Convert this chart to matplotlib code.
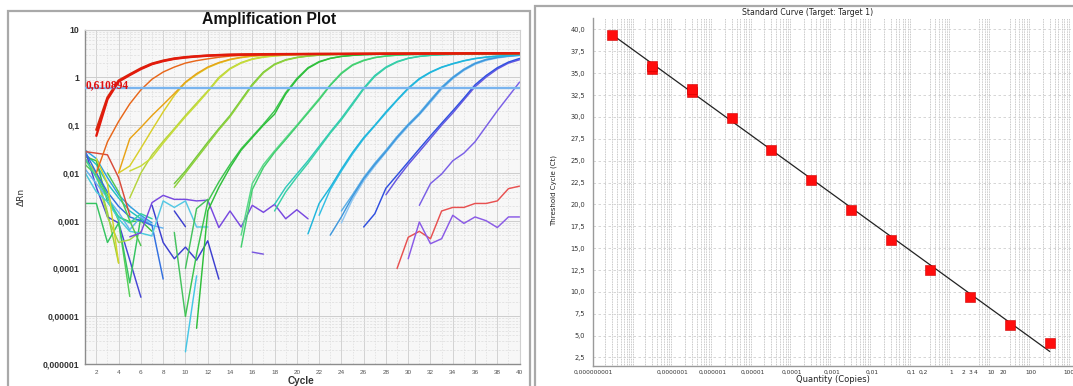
import numpy as np
import matplotlib
matplotlib.use("Agg")
import matplotlib.pyplot as plt
from matplotlib.patches import Rectangle
from matplotlib.ticker import LogLocator, NullFormatter, FixedLocator

# ---------------- amplification plot ----------------
threshold = 0.610894
amp_y_ticks = [10, 1, 0.1, 0.01, 0.001, 0.0001, 0.00001, 0.000001]
amp_y_labels = ["10", "1", "0,1", "0,01", "0,001", "0,0001", "0,00001", "0,000001"]
cycle_ticks = list(range(2, 41, 2))

# each trace: (first cycle, delta Rn for each following cycle)
red_a = (2, [0.06, 0.35, 0.82, 1.12, 1.5, 1.9, 2.2, 2.45, 2.62, 2.75, 2.85, 2.92, 2.97, 3.0, 3.02, 3.04, 3.05,
             3.06, 3.07, 3.08, 3.09, 3.1, 3.1, 3.11, 3.12, 3.12, 3.13, 3.14, 3.14, 3.15, 3.16, 3.16, 3.17, 3.17,
             3.18, 3.18, 3.19, 3.19, 3.2])
red_b = (2, [0.08, 0.38, 0.86, 1.16, 1.55, 1.95, 2.25, 2.5, 2.66, 2.78, 2.88, 2.95, 3.0, 3.03, 3.05, 3.07, 3.08,
             3.09, 3.1, 3.11, 3.12, 3.12, 3.13, 3.14, 3.14, 3.15, 3.16, 3.16, 3.17, 3.18, 3.18, 3.19, 3.19, 3.2,
             3.2, 3.21, 3.21, 3.22, 3.22])
red_frag = (1, [0.028, 0.026, 0.024, 0.008, 0.0013])
orange_a = (2, [0.01, 0.045, 0.12, 0.28, 0.55, 0.92, 1.3, 1.65, 2.0, 2.25, 2.45, 2.65, 2.8, 2.9, 2.97, 3.02, 3.05,
                3.07, 3.09, 3.1, 3.11, 3.12, 3.13, 3.14, 3.15, 3.15, 3.16, 3.17, 3.18, 3.18, 3.19, 3.2, 3.2, 3.21,
                3.21, 3.22, 3.22, 3.23, 3.23])
yellow_a = (4, [0.01, 0.052, 0.09, 0.16, 0.27, 0.46, 0.8, 1.2, 1.65, 2.05, 2.4, 2.65, 2.82, 2.93, 3.0, 3.05, 3.08,
                3.1, 3.12, 3.13, 3.14, 3.15, 3.16, 3.17, 3.18, 3.18, 3.19, 3.2, 3.2, 3.21, 3.21, 3.22, 3.22, 3.23,
                3.23, 3.24, 3.24])
yellow_b = (4, [0.01, 0.014, 0.033, 0.08, 0.19, 0.42, 0.78, 1.15, 1.6, 2.0, 2.35, 2.6, 2.78, 2.9, 2.98, 3.03, 3.07,
                3.09, 3.11, 3.12, 3.13, 3.14, 3.15, 3.16, 3.17, 3.17, 3.18, 3.19, 3.19, 3.2, 3.2, 3.21, 3.21, 3.22,
                3.22, 3.23, 3.23])
lime_a = (5, [0.011, 0.014, 0.021, 0.042, 0.08, 0.15, 0.27, 0.5, 0.95, 1.5, 2.0, 2.4, 2.65, 2.82, 2.93, 3.0, 3.05,
              3.08, 3.1, 3.11, 3.12, 3.13, 3.14, 3.15, 3.16, 3.16, 3.17, 3.18, 3.18, 3.19, 3.19, 3.2, 3.2, 3.21,
              3.21, 3.22])
lime_b = (5, [0.003, 0.01, 0.024, 0.046, 0.085, 0.16, 0.29, 0.52, 1.0, 1.55, 2.05, 2.45, 2.7, 2.85, 2.95, 3.02, 3.06,
              3.08, 3.1, 3.11, 3.12, 3.13, 3.14, 3.15, 3.15, 3.16, 3.17, 3.17, 3.18, 3.18, 3.19, 3.19, 3.2, 3.2,
              3.21, 3.21])
chart_a = (9, [0.005, 0.01, 0.02, 0.04, 0.08, 0.15, 0.32, 0.68, 1.25, 1.85, 2.3, 2.6, 2.8, 2.93, 3.0, 3.05, 3.08,
               3.1, 3.11, 3.12, 3.13, 3.14, 3.14, 3.15, 3.16, 3.16, 3.17, 3.17, 3.18, 3.18, 3.19, 3.19])
chart_b = (9, [0.006, 0.011, 0.022, 0.044, 0.085, 0.16, 0.34, 0.72, 1.3, 1.9, 2.35, 2.63, 2.82, 2.94, 3.01, 3.06,
               3.08, 3.1, 3.11, 3.12, 3.13, 3.13, 3.14, 3.15, 3.15, 3.16, 3.16, 3.17, 3.17, 3.18, 3.18, 3.19])
green_a = (11, [0.0000056, 0.0016, 0.005, 0.013, 0.03, 0.055, 0.1, 0.17, 0.45, 0.9, 1.55, 2.1, 2.5, 2.75, 2.9,
                3.0, 3.05, 3.08, 3.1, 3.11, 3.12, 3.13, 3.13, 3.14, 3.14, 3.15, 3.15, 3.16, 3.16, 3.17])
green_b = (10, [0.00001, 0.0002, 0.0025, 0.0065, 0.015, 0.032, 0.058, 0.105, 0.2, 0.48, 0.95, 1.6, 2.15, 2.52,
                2.77, 2.91, 3.0, 3.05, 3.08, 3.1, 3.11, 3.12, 3.12, 3.13, 3.13, 3.14, 3.14, 3.15, 3.15, 3.16, 3.16])
mint_a = (15, [0.00028, 0.0045, 0.013, 0.027, 0.05, 0.095, 0.18, 0.34, 0.68, 1.2, 1.8, 2.25, 2.6, 2.8, 2.93, 3.0,
               3.05, 3.08, 3.1, 3.11, 3.12, 3.12, 3.13, 3.13, 3.14, 3.14])
mint_b = (15, [0.0005, 0.006, 0.015, 0.029, 0.054, 0.1, 0.19, 0.36, 0.7, 1.25, 1.85, 2.3, 2.62, 2.82, 2.94, 3.01,
               3.05, 3.08, 3.09, 3.1, 3.11, 3.11, 3.12, 3.12, 3.13, 3.13])
teal_a = (18, [0.0016, 0.004, 0.0082, 0.016, 0.033, 0.068, 0.13, 0.27, 0.57, 1.05, 1.6, 2.1, 2.5, 2.75, 2.9, 3.0,
               3.05, 3.08, 3.1, 3.1, 3.11, 3.12, 3.12])
teal_b = (18, [0.0022, 0.005, 0.0095, 0.018, 0.036, 0.072, 0.14, 0.29, 0.6, 1.1, 1.65, 2.15, 2.53, 2.77, 2.91, 3.0,
               3.04, 3.07, 3.08, 3.09, 3.1, 3.1, 3.11])
cyan_a = (21, [0.00053, 0.0023, 0.005, 0.012, 0.027, 0.055, 0.1, 0.19, 0.34, 0.6, 0.95, 1.3, 1.65, 1.95, 2.25,
               2.5, 2.68, 2.8, 2.9, 2.98])
cyan_b = (22, [0.0013, 0.0045, 0.011, 0.025, 0.052, 0.097, 0.18, 0.33, 0.58, 0.92, 1.27, 1.62, 1.92, 2.22, 2.47,
               2.65, 2.78, 2.88, 2.96])
sky_a = (23, [0.0005, 0.0012, 0.0032, 0.0075, 0.015, 0.028, 0.055, 0.1, 0.17, 0.32, 0.6, 0.98, 1.45, 1.95, 2.35,
              2.62, 2.8, 2.92])
sky_b = (24, [0.0009, 0.0028, 0.0068, 0.014, 0.027, 0.052, 0.095, 0.165, 0.3, 0.57, 0.94, 1.4, 1.88, 2.28, 2.56,
              2.75, 2.88])
sky_c = (24, [0.0016, 0.0035, 0.008, 0.016, 0.03, 0.058, 0.105, 0.18, 0.34, 0.63, 1.02, 1.5, 2.0, 2.4, 2.66, 2.83,
              2.95])
blue_a = (26, [0.00074, 0.0014, 0.0048, 0.009, 0.017, 0.032, 0.06, 0.11, 0.2, 0.37, 0.7, 1.1, 1.6, 2.1, 2.5])
blue_b = (28, [0.0035, 0.0075, 0.015, 0.028, 0.053, 0.1, 0.18, 0.34, 0.64, 1.02, 1.5, 2.0, 2.35])
violet_a = (31, [0.0021, 0.006, 0.0095, 0.018, 0.026, 0.045, 0.095, 0.2, 0.4, 0.8])
ntc_red = (29, [0.0001, 0.00045, 0.0006, 0.00042, 0.0016, 0.0019, 0.0019, 0.0023, 0.0023, 0.0026, 0.0047, 0.0053])
ntc_violet = (30, [0.00016, 0.00094, 0.00033, 0.00042, 0.0013, 0.00088, 0.0012, 0.001, 0.00072, 0.0012, 0.0012])

# baseline noise before the curves leave the background
violet_noise = (5, [0.00046, 0.00056, 0.0024, 0.0034, 0.0028, 0.0028, 0.0026, 0.0027, 0.00072, 0.0016, 0.00074,
                    0.0021, 0.0015, 0.0022, 0.0011, 0.0017, 0.0011])
indigo_noise = (7, [0.0021, 0.00035, 0.00016, 0.00028, 0.00015, 0.00038, 0.00006])
indigo_frag = (9, [0.0016, 0.00075])
cyan_noise = (7, [0.0005, 0.0026, 0.0019, 0.0026, 0.00074, 0.00074])
cyan_dip = (10, [0.0000018, 0.00007])
green_dip = (9, [0.00057, 0.00001])
green_rise = (10, [0.0001, 0.0018, 0.0028])
violet_frag = (16, [0.00022, 0.0002])
base_1 = (1, [0.03, 0.02, 0.008, 0.0035, 0.002, 0.0013, 0.0009])
base_2 = (1, [0.025, 0.015, 0.006, 0.003, 0.0016, 0.0011, 0.0008])
base_3 = (1, [0.022, 0.018, 0.0025, 0.0012, 0.00095, 0.001, 0.0006])
base_4 = (1, [0.02, 0.01, 0.0015, 0.00013])
base_5 = (1, [0.03, 0.005, 0.0012, 0.0009, 0.00015, 0.000025])
base_6 = (1, [0.015, 0.009, 0.0035, 0.001, 0.000026])
base_7 = (1, [0.0023, 0.0023, 0.00035, 0.0009, 0.00005, 0.0012])
base_8 = (1, [0.018, 0.01, 0.0012, 0.00035, 0.0004, 0.0006])
base_9 = (1, [0.012, 0.006, 0.003, 0.0015, 0.00065, 0.0012, 0.0008, 0.0007])
base_10 = (1, [0.01, 0.004, 0.0025, 0.0011, 0.0006, 0.00055, 0.00048])
base_11 = (1, [0.028, 0.01, 0.004, 0.002, 0.0012, 0.001, 0.0008, 0.00006])
base_12 = (1, [0.02, 0.008, 0.003, 0.0012, 0.0009, 0.0014, 0.0011])
base_13 = (2, [0.02, 0.006, 0.00013])
base_14 = (3, [0.01, 0.004, 0.001, 0.0003])

# ---------------- standard curve ----------------
quantity = [3e-9, 3e-8, 3e-8, 3e-7, 3e-7, 3e-6, 3e-5, 3e-4, 3e-3, 3e-2, 0.3, 3, 30, 300]
ct_value = [39.4, 35.5, 35.8, 32.9, 33.15, 29.9, 26.2, 22.8, 19.4, 15.9, 12.55, 9.45, 6.25, 4.1]
fit_slope = -3.29
fit_intercept = 11.35
qty_ticks = [1e-9, 1e-7, 1e-6, 1e-5, 1e-4, 1e-3, 1e-2, 0.1, 0.2, 1, 2, 3, 4, 10, 20, 100, 1000]
qty_labels = ["0,000000001", "0,0000001", "0,000001", "0,00001", "0,0001", "0,001", "0,01", "0,1", "0,2",
              "1", "2", "3", "4", "10", "20", "100", "1000"]
ct_ticks = [2.5, 5, 7.5, 10, 12.5, 15, 17.5, 20, 22.5, 25, 27.5, 30, 32.5, 35, 37.5, 40]
ct_labels = ["2,5", "5,0", "7,5", "10,0", "12,5", "15,0", "17,5", "20,0", "22,5", "25,0", "27,5", "30,0",
             "32,5", "35,0", "37,5", "40,0"]

W, H = 1073, 386
fig = plt.figure(figsize=(W / 100, H / 100), dpi=100)
fig.patch.set_facecolor("white")

def fx(px):
    return px / W

def fy(py):
    return 1 - py / H

# panel frames
fig.add_artist(Rectangle((fx(7.5), -0.05), fx(522.5), fy(10.8) + 0.05, transform=fig.transFigure,
                         fill=False, ec="#a9a9a9", lw=1.6))
fig.add_artist(Rectangle((fx(535), -0.05), 0.6, fy(6) + 0.05, transform=fig.transFigure,
                         fill=False, ec="#a9a9a9", lw=1.6))

# ---- amplification axes ----
ax = fig.add_axes([fx(85.2), fy(364), fx(519.6 - 85.2), (364 - 29.7) / H])
ax.set_facecolor("#f7f7f7")
ax.set_yscale("log")
ax.set_xlim(1, 40)
ax.set_ylim(1e-6, 10)
ax.set_yticks(amp_y_ticks)
ax.set_yticklabels(amp_y_labels, fontsize=6.3, fontweight="bold", color="#333333", family="Liberation Sans")
ax.yaxis.set_minor_locator(LogLocator(base=10, subs=np.arange(2, 10)))
ax.yaxis.set_minor_formatter(NullFormatter())
ax.set_xticks(cycle_ticks)
ax.set_xticklabels([str(c) for c in cycle_ticks], fontsize=4.6, color="#555555", family="Liberation Sans")
ax.xaxis.set_minor_locator(FixedLocator(range(3, 40, 2)))
ax.tick_params(which="both", length=0, pad=4)
ax.grid(which="major", axis="y", color="#cdcdcd", lw=0.7)
ax.grid(which="minor", axis="y", color="#dcdcdc", lw=0.5, ls=(0, (3, 2)))
ax.grid(which="major", axis="x", color="#d2d2d2", lw=0.7)
ax.grid(which="minor", axis="x", color="#dddddd", lw=0.5, ls=(0, (2, 2)))
ax.set_axisbelow(True)
for side in ("left", "bottom"):
    ax.spines[side].set_color("#8c8c8c")
    ax.spines[side].set_linewidth(1.0)
for side in ("top", "right"):
    ax.spines[side].set_color("#d0d0d0")
    ax.spines[side].set_linewidth(0.8)

amp_traces = [
    (base_1, "#2f9fe0"), (base_2, "#22c0c4"), (base_3, "#3fbf45"), (base_4, "#9ad23a"), (base_5, "#4646d6"),
    (base_6, "#55d058"), (base_7, "#35c460"), (base_8, "#a8d448"), (base_9, "#66b4f0"), (base_10, "#48cadb"),
    (base_11, "#3270e0"), (base_12, "#35d0a0"), (base_13, "#d4d428"), (base_14, "#52c852"),
    (violet_noise, "#7848e0"), (indigo_noise, "#3d3fd0"), (indigo_frag, "#3d3fd0"), (cyan_noise, "#55c8e4"),
    (cyan_dip, "#45c6e6"), (green_dip, "#45c25e"), (green_rise, "#45c25e"), (violet_frag, "#7a58e0"),
    (ntc_red, "#e85050"), (ntc_violet, "#8a5ae6"),
    (violet_a, "#7a5fe6"), (blue_b, "#6656e0"), (blue_a, "#2f4fe0"),
    (sky_b, "#8ec5f0"), (sky_c, "#5aaee6"), (sky_a, "#3f98dd"),
    (cyan_b, "#33bfe3"), (cyan_a, "#1fb6dc"),
    (teal_b, "#30c9bb"), (teal_a, "#39d0a4"),
    (mint_b, "#5ad88a"), (mint_a, "#42cf6e"),
    (green_b, "#3cc54e"), (green_a, "#2fbf3a"),
    (chart_b, "#74c83f"), (chart_a, "#8fd13a"),
    (lime_b, "#b5d43c"), (lime_a, "#c8dc3a"),
    (yellow_b, "#d9cf2a"), (yellow_a, "#e8a317"),
    (red_frag, "#d84a3a"), (orange_a, "#e8671a"),
    (red_b, "#d42a10"), (red_a, "#e31a0c"),
]
for (start, values), color in amp_traces:
    x = np.arange(start, start + len(values))
    lw = 1.7 if color in ("#e31a0c", "#d42a10") else 1.05
    ax.plot(x, values, color=color, lw=lw, solid_joinstyle="round", solid_capstyle="round")

ax.axhline(threshold, color="#79b4ee", lw=1.7, zorder=5)
ax.text(1.05, 0.675, "0,610894", color="#e01010", fontsize=8.3, fontweight="bold",
        family="Liberation Serif", va="center", ha="left", zorder=6)

fig.text(fx(268.8), fy(19.6), "Amplification Plot", ha="center", va="center", fontsize=11.3,
         fontweight="bold", family="Liberation Sans", color="#111111")
fig.text(fx(301), fy(380.5), "Cycle", ha="center", va="center", fontsize=7.2, fontweight="bold",
         family="Liberation Sans", color="#333333")
fig.text(fx(21), fy(197), "\u0394Rn", ha="center", va="center", rotation=90, fontsize=6.5,
         family="DejaVu Sans", color="#333333")

# ---- standard curve axes ----
x_lo, x_hi = 1e-9, 3.1e3
bx = fig.add_axes([fx(593.4), fy(365.5), fx(39.75 * np.log10(x_hi / x_lo)), (365.5 - 18) / H])
bx.set_facecolor("white")
bx.set_xscale("log")
bx.set_xlim(x_lo, x_hi)
bx.set_ylim(1.585, 41.31)
bx.set_xticks(qty_ticks)
bx.set_xticklabels(qty_labels, fontsize=4.2, color="#333333", family="DejaVu Sans")
bx.set_yticks(ct_ticks)
bx.set_yticklabels(ct_labels, fontsize=4.8, color="#333333", family="DejaVu Sans")
minor_lines = [k * 10.0 ** d for d in range(-9, 4) for k in range(1, 10)]
bx.xaxis.set_minor_locator(FixedLocator(minor_lines))
bx.xaxis.set_minor_formatter(NullFormatter())
bx.tick_params(which="both", length=0, pad=3)
bx.tick_params(axis="y", pad=6)
bx.grid(which="minor", axis="x", color="#b4b4b4", lw=0.6, ls=(0, (1, 1)))
bx.grid(which="major", axis="y", color="#cfcfcf", lw=0.6, ls=(0, (3, 3)))
bx.set_axisbelow(True)
for side in ("left", "bottom"):
    bx.spines[side].set_color("#9a9a9a")
    bx.spines[side].set_linewidth(1.0)
for side in ("top", "right"):
    bx.spines[side].set_visible(False)

q_line = np.array([min(quantity), max(quantity)])
bx.plot(q_line, fit_intercept + fit_slope * np.log10(q_line), color="#222222", lw=0.9, zorder=3)
bx.plot(quantity, ct_value, ls="none", marker="s", ms=6.6, mfc="#ff0d0d", mec="#d00000", mew=0.4, zorder=4)

fig.text(fx(807.8), fy(12.1), "Standard Curve (Target: Target 1)", ha="center", va="center", fontsize=5.6,
         family="DejaVu Sans", color="#222222")
fig.text(fx(833), fy(379.5), "Quantity (Copies)", ha="center", va="center", fontsize=6.0,
         family="DejaVu Sans", color="#222222")
fig.text(fx(554), fy(190), "Threshold Cycle (Ct)", ha="center", va="center", rotation=90, fontsize=5.0,
         family=["Liberation Sans Narrow", "DejaVu Sans"], color="#222222")

fig.savefig("out.png", dpi=100)
